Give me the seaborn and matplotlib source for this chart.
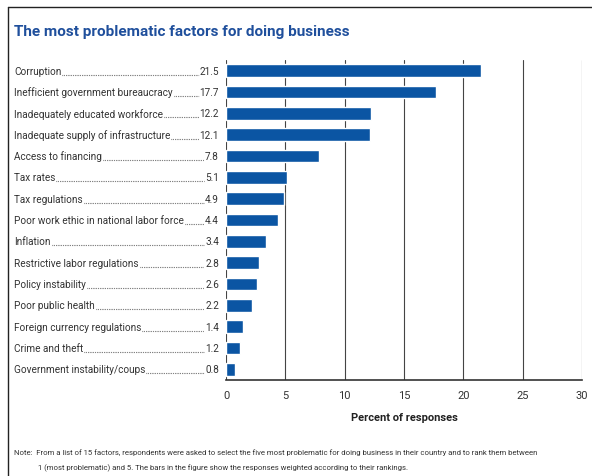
import seaborn as sns
import matplotlib.pyplot as plt
import pandas as pd
from matplotlib.lines import Line2D

factors = ["Corruption", "Inefficient government bureaucracy", "Inadequately educated workforce",
           "Inadequate supply of infrastructure", "Access to financing", "Tax rates", "Tax regulations",
           "Poor work ethic in national labor force", "Inflation", "Restrictive labor regulations",
           "Policy instability", "Poor public health", "Foreign currency regulations",
           "Crime and theft", "Government instability/coups"]
values = [21.5, 17.7, 12.2, 12.1, 7.8, 5.1, 4.9, 4.4, 3.4, 2.8, 2.6, 2.2, 1.4, 1.2, 0.8]
value_labels = ["21.5", "17.7", "12.2", "12.1", "7.8", "5.1", "4.9", "4.4", "3.4", "2.8",
                "2.6", "2.2", "1.4", "1.2", "0.8"]
xticks = [0, 5, 10, 15, 20, 25, 30]

df = pd.DataFrame({"Factor": factors, "Value": values})

sns.set_style("white")
plt.rcParams['font.family'] = ['Roboto', 'DejaVu Sans']

W, H = 592, 477
fig = plt.figure(figsize=(W / 100, H / 100), dpi=100)
ax = fig.add_axes([226 / W, 1 - 381 / H, 356 / W, 320 / H])

sns.barplot(data=df, x="Value", y="Factor", color="#0b55a3", saturation=1, width=0.58, ax=ax, zorder=3)

ax.set_xlim(0, 30)
ax.set_xticks(xticks)
ax.set_xticklabels([str(t) for t in xticks], fontsize=8, color="#333333")
ax.tick_params(axis="x", length=0, pad=7)
ax.set_yticks([])
ax.set_ylabel("")
ax.set_xlabel("Percent of responses", fontsize=8, fontweight="bold", color="#222222", labelpad=9)
for t in xticks:
    ax.axvline(t, color="#444444", linewidth=0.8, zorder=1)
for s in ["top", "right", "left"]:
    ax.spines[s].set_visible(False)
ax.spines["bottom"].set_color("#333333")
ax.spines["bottom"].set_linewidth(1.2)

# labels with dotted leaders
fig.canvas.draw()
renderer = fig.canvas.get_renderer()
for i, (name, lab) in enumerate(zip(factors, value_labels)):
    ypix = ax.transData.transform((0, i))[1]
    yf = ypix / H
    t1 = fig.text(14 / W, yf, name, fontsize=7.2, color="#333333", va="center", ha="left")
    t2 = fig.text(219 / W, yf, lab, fontsize=7.2, color="#333333", va="center", ha="right")
    b1 = t1.get_window_extent(renderer)
    b2 = t2.get_window_extent(renderer)
    fig.add_artist(Line2D([(b1.x1 + 1) / W, (b2.x0 - 1) / W], [(ypix - 4) / H] * 2,
                          transform=fig.transFigure, color="#444444", linewidth=0.8,
                          linestyle=(0, (0.6, 1.0))))

fig.text(14 / W, 1 - 32 / H, "The most problematic factors for doing business", fontsize=11,
         fontweight="bold", color="#1f4f9c", va="center", ha="left")
fig.text(14 / W, 1 - 453 / H, "Note:  From a list of 15 factors, respondents were asked to select the five most "
         "problematic for doing business in their country and to rank them between",
         fontsize=5.6, color="#333333", va="center")
fig.text(38 / W, 1 - 468 / H, "1 (most problematic) and 5. The bars in the figure show the responses "
         "weighted according to their rankings.", fontsize=5.6, color="#333333", va="center")

# frame lines
fig.add_artist(Line2D([8 / W, 1], [1 - 8 / H] * 2, transform=fig.transFigure, color="#222222", linewidth=1))
fig.add_artist(Line2D([8 / W, 8 / W], [0, 1 - 8 / H], transform=fig.transFigure, color="#222222", linewidth=1))

fig.savefig("out.png", dpi=100)
